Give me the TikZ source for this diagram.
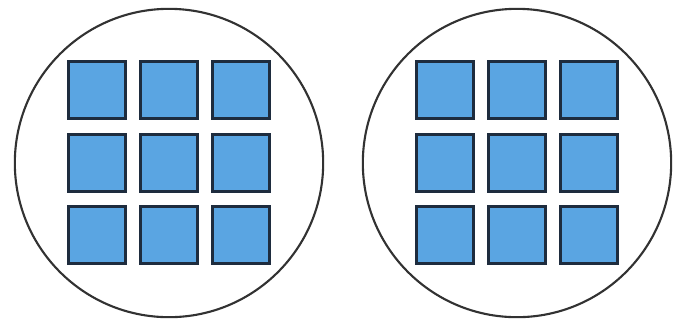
\documentclass[tikz,border=0pt]{standalone}
\definecolor{cellblue}{RGB}{90,165,226}
\definecolor{celledge}{RGB}{30,44,62}
\definecolor{rimgray}{RGB}{50,50,50}
\tikzset{
  cell/.style={draw=celledge,fill=cellblue,line width=3pt,minimum size=1.7cm,inner sep=0pt},
  dish/.style={draw=rimgray,circle,line width=1.8pt,minimum size=9.25cm,inner sep=0pt}
}
\begin{document}
\begin{tikzpicture}[x=0.03cm,y=-0.03cm]
    \useasboundingbox (0,0) rectangle (677,325);
    \node[dish] (dishL) at (169,163) {};
    \node[dish] (dishR) at (517,163) {};
    % left grid
    \node[cell] (l11) at (97,90) {};
    \node[cell] (l12) at (169,90) {};
    \node[cell] (l13) at (241,90) {};
    \node[cell] (l21) at (97,163) {};
    \node[cell] (l22) at (169,163) {};
    \node[cell] (l23) at (241,163) {};
    \node[cell] (l31) at (97,235) {};
    \node[cell] (l32) at (169,235) {};
    \node[cell] (l33) at (241,235) {};
    % right grid
    \node[cell] (r11) at (445,90) {};
    \node[cell] (r12) at (517,90) {};
    \node[cell] (r13) at (589,90) {};
    \node[cell] (r21) at (445,163) {};
    \node[cell] (r22) at (517,163) {};
    \node[cell] (r23) at (589,163) {};
    \node[cell] (r31) at (445,235) {};
    \node[cell] (r32) at (517,235) {};
    \node[cell] (r33) at (589,235) {};
\end{tikzpicture}
\end{document}
